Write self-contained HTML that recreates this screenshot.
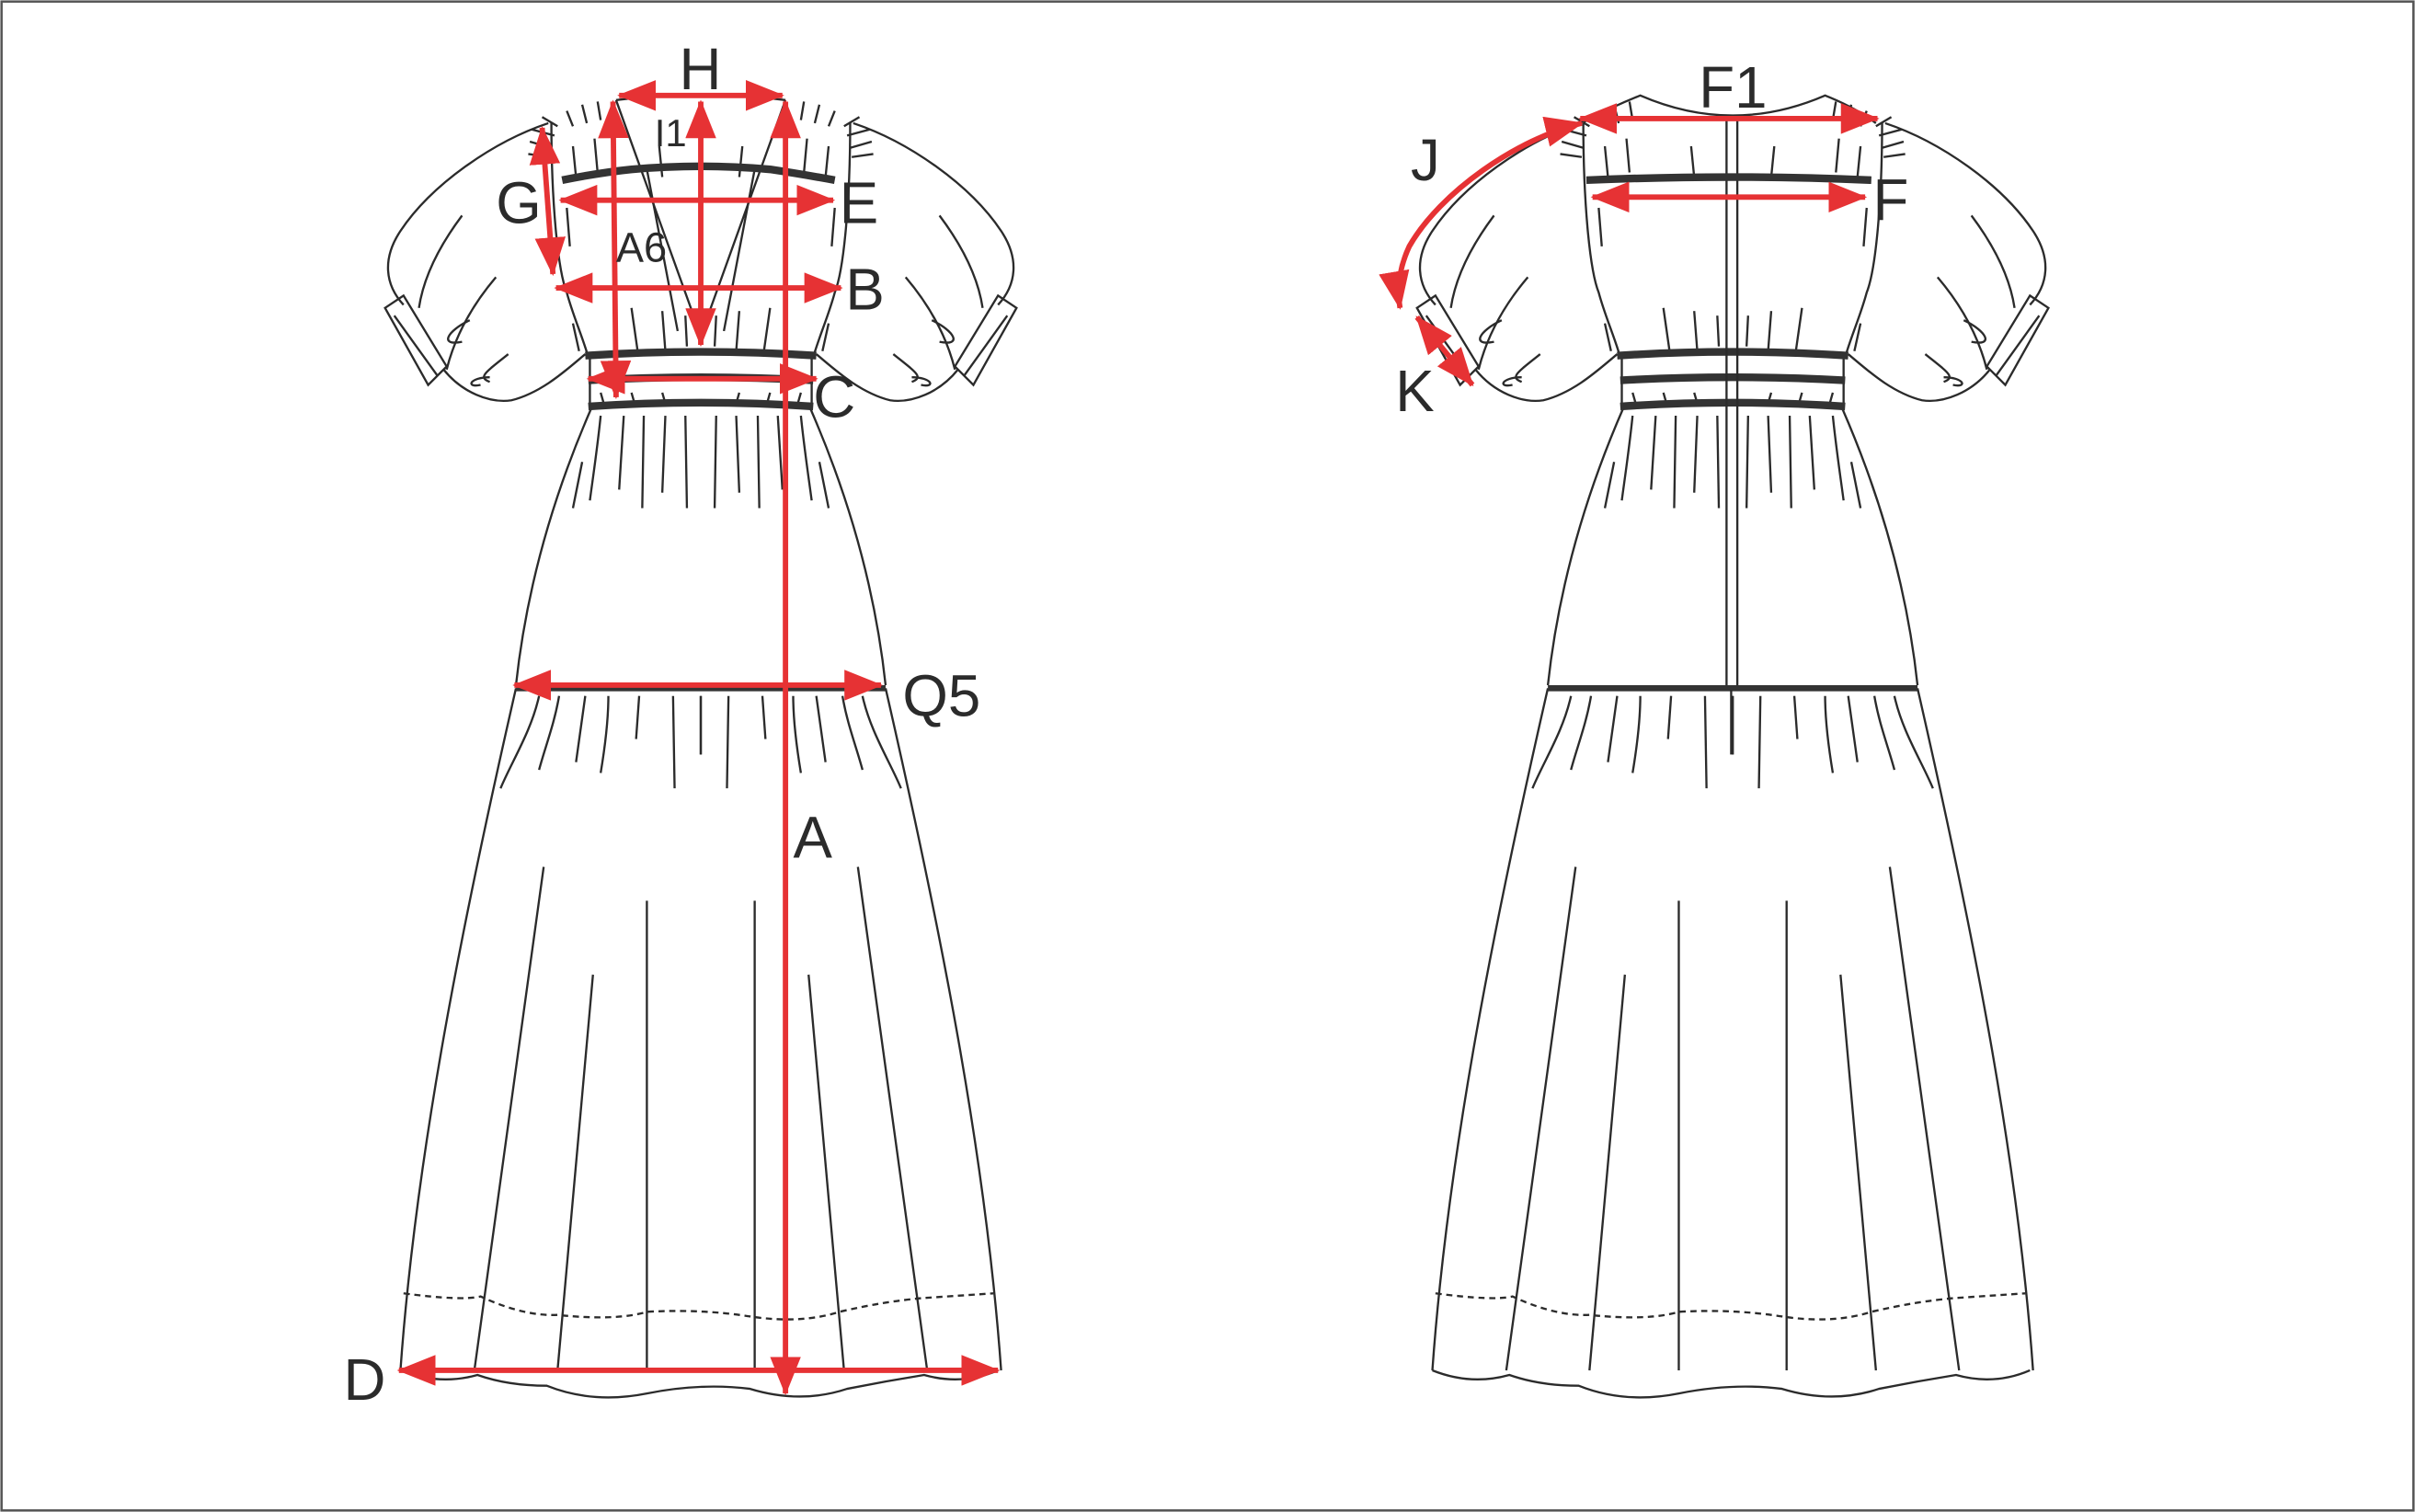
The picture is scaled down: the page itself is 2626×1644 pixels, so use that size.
<!DOCTYPE html>
<html><head><meta charset="utf-8"><style>
html,body{margin:0;padding:0;background:#fff;}
svg{display:block;}
text{font-family:"Liberation Sans",sans-serif;fill:#2b2b2b;}
</style></head><body>
<svg width="2626" height="1644" viewBox="0 0 1568 982" preserveAspectRatio="none" xmlns="http://www.w3.org/2000/svg">
<defs>
<marker id="a" viewBox="0 0 20 16" refX="19" refY="8" markerWidth="25" markerHeight="20" orient="auto-start-reverse" markerUnits="userSpaceOnUse"><path d="M0,0 L20,8 L0,16 Z" fill="#e63234"/></marker>
<g id="half" fill="none" stroke="#2b2b2b" stroke-width="1.4">
  <path d="M356,80 C320,92 280,120 260,150 C248,168 250,185 262,198"/>
  <path d="M250,200 L262,192 L290,238 L278,250 Z"/>
  <path d="M256,205 L284,244"/>
  <path d="M288,240 C300,255 318,262 332,260 C352,255 368,240 380,230"/>
  <path d="M300,140 C285,160 275,180 272,200"/>
  <path d="M322,180 C305,200 295,220 290,240"/>
  <path d="M305,208 C290,215 285,225 300,222"/>
  <path d="M330,230 C315,242 310,245 318,248"/>
  <path d="M318,245 C305,245 302,252 312,250"/>
  <path d="M345,84 L360,88 M344,92 L358,96 M343,100 L357,102 M352,76 L362,82 M368,72 L372,82 M378,68 L381,80 M388,66 L390,78"/>
  <path d="M358,80 C358,130 362,175 368,190 C372,205 378,218 382,232"/>
  <path d="M372,95 L374,115 M386,90 L388,112 M368,135 L370,160 M428,95 L430,115 M372,210 L376,228 M410,200 L414,228 M430,202 L432,228 M445,205 L446,225 M390,255 L392,262 M410,255 L412,262 M430,255 L432,262"/>
  <path d="M384,265 C360,320 342,380 335,445"/>
  <path d="M378,300 C375,315 373,325 372,330 M390,270 C388,290 385,310 383,325 M405,270 L402,318 M418,270 L417,330 M432,270 L430,320 M445,270 L446,330"/>
  <path d="M335,447 C300,600 270,750 260,890"/>
  <path d="M350,452 C345,475 332,495 325,512 M363,452 C360,470 354,485 350,500 M380,452 L374,495 M395,452 C395,470 392,490 390,502 M415,452 L413,480 M437,452 L438,512 M455,452 L455,490"/>
  <path d="M353,563 L308,890 M385,633 L362,890 M420,585 L420,890"/>
</g>
<g id="dress">
  <use href="#half"/>
  <use href="#half" transform="translate(910,0) scale(-1,1)"/>
  <g fill="none" stroke="#2b2b2b" stroke-width="1.4">
    <path d="M260,890 Q285,900 310,893 Q330,900 355,900 Q385,912 420,905 Q455,898 487,902 Q520,912 550,902 Q575,897 600,893 Q625,900 648,890"/>
    <path d="M262,840 Q300,845 312,842 Q340,855 362,854 Q400,858 420,852 Q455,850 487,855 Q520,860 545,852 Q575,845 600,843 L645,840" stroke-dasharray="4,3"/>
    <path d="M383,232 L383,265 M527,232 L527,265"/>
  </g>
  <g fill="none" stroke="#333" stroke-width="5">
    <path d="M380,231 Q455,226 530,231"/>
    <path d="M382,247 Q455,243 528,247"/>
    <path d="M382,264 Q455,259 528,264"/>
    <path d="M335,447 L575,447" stroke-width="4"/>
  </g>
</g>
</defs>
<rect x="1" y="1" width="1566" height="980" fill="#fff" stroke="#555" stroke-width="1.5"/>

<use href="#dress"/>
<g fill="none" stroke="#2b2b2b" stroke-width="1.4">
  <path d="M400,65 L455,218 L510,65"/>
  <path d="M400,65 Q455,58 510,65"/>
  <path d="M420,110 L440,215 M490,110 L470,215"/>
</g>
<path d="M365,117 Q390,112 410,110 Q455,106 500,110 Q520,113 542,117" fill="none" stroke="#333" stroke-width="5"/>
<g stroke="#e63234" stroke-width="3.5" fill="none">
  <line x1="402" y1="62" x2="508" y2="62" marker-start="url(#a)" marker-end="url(#a)"/>
  <line x1="455" y1="66" x2="455" y2="224" marker-start="url(#a)" marker-end="url(#a)"/>
  <line x1="398" y1="66" x2="400" y2="258" marker-start="url(#a)" marker-end="url(#a)"/>
  <line x1="510" y1="66" x2="510" y2="905" marker-start="url(#a)" marker-end="url(#a)"/>
  <line x1="364" y1="130" x2="541" y2="130" marker-start="url(#a)" marker-end="url(#a)"/>
  <line x1="361" y1="187" x2="546" y2="187" marker-start="url(#a)" marker-end="url(#a)"/>
  <line x1="382" y1="246" x2="530" y2="246" marker-start="url(#a)" marker-end="url(#a)"/>
  <line x1="352" y1="83" x2="359" y2="178" marker-start="url(#a)" marker-end="url(#a)"/>
  <line x1="334" y1="445" x2="572" y2="445" marker-start="url(#a)" marker-end="url(#a)"/>
  <line x1="259" y1="890" x2="648" y2="890" marker-start="url(#a)" marker-end="url(#a)"/>
</g>
<g font-size="38">
  <text x="441" y="58">H</text>
  <text x="425" y="95" font-size="25">I1</text>
  <text x="322" y="145">G</text>
  <text x="545" y="145">E</text>
  <text x="400" y="170" font-size="27">A6</text>
  <text x="549" y="201">B</text>
  <text x="528" y="271">C</text>
  <text x="586" y="465">Q5</text>
  <text x="515" y="557">A</text>
  <text x="223" y="909">D</text>
</g>

<g transform="translate(670,0)">
  <use href="#dress"/>
</g>
<g fill="none" stroke="#2b2b2b" stroke-width="1.4">
  <path d="M1027,80 Q1045,70 1065,62 Q1125,88 1185,62 Q1205,70 1218,80"/>
  <path d="M1121,75 L1121,445 M1128,75 L1128,445"/>
  <path d="M1124,448 L1124,490"/>
</g>
<path d="M1030,117 Q1125,113 1215,117" fill="none" stroke="#333" stroke-width="5"/>
<g stroke="#e63234" stroke-width="3.5" fill="none">
  <line x1="1026" y1="77" x2="1219" y2="77" marker-start="url(#a)" marker-end="url(#a)"/>
  <line x1="1034" y1="128" x2="1211" y2="128" marker-start="url(#a)" marker-end="url(#a)"/>
  <path d="M1027,80 C985,90 935,125 915,160 C908,175 907,188 909,200" marker-start="url(#a)" marker-end="url(#a)"/>
  <line x1="920" y1="206" x2="956" y2="250" marker-start="url(#a)" marker-end="url(#a)"/>
</g>
<g font-size="38">
  <text x="1103" y="70">F1</text>
  <text x="1216" y="143">F</text>
  <text x="916" y="117">J</text>
  <text x="906" y="267">K</text>
</g>
</svg>
</body></html>
